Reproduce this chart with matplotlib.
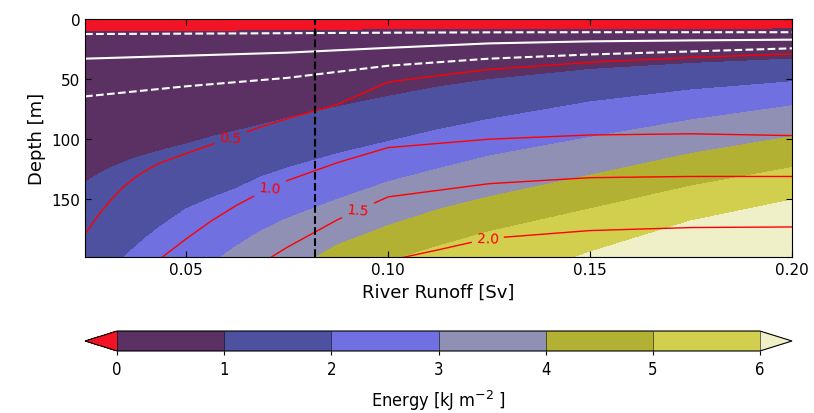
import numpy as np
import matplotlib
matplotlib.use("Agg")
import matplotlib.pyplot as plt
from matplotlib.colors import ListedColormap

plt.rcParams['font.family'] = 'DejaVu Sans'

# river runoff columns [Sv]
runoff = [0.025, 0.028125, 0.03125, 0.034375, 0.0375, 0.040625, 0.04375, 0.05,
          0.05625, 0.0625, 0.06875, 0.075, 0.0875, 0.1, 0.1125, 0.125, 0.15,
          0.175, 0.2]
ncol = len(runoff)

# energy field: depth [m] at which the energy reaches each level (kJ m-2)
energy_levels = [-1, 0, 1, 2, 3, 4, 5, 6, 7]
e_top = [0] * ncol
e_0 = [10.6, 10.55, 10.5, 10.45, 10.4, 10.35, 10.3, 10.2,
       10.1, 10.0, 9.8, 9.6, 9.3, 9.0, 8.9, 8.8, 8.6, 8.4, 8.3]
e_1 = [136, 129.5, 124, 119.5, 115.5, 112.5, 109.5, 104,
       98, 93, 88, 82.5, 73, 64.5, 56.5, 50.5, 42, 37, 33.3]
e_2 = [235, 222, 210, 199, 189.5, 180.5, 172.5, 158,
       149, 141, 131, 124, 112, 102, 92, 83.5, 69, 59, 52.2]
e_3 = [310, 297, 285, 273, 262, 251, 240, 222,
       204, 189, 176, 166, 150, 135.5, 124.5, 114, 98.5, 84, 72.2]
e_4 = [360, 350, 340, 330, 320, 310, 300, 282,
       265, 248, 230, 212, 188, 172, 158.5, 148, 130, 112, 97.8]
e_5 = [400, 390, 380, 370, 360, 350, 340, 320,
       300, 282, 265, 250, 224, 202, 189, 177, 158, 139, 123.6]
e_6 = [450, 440, 430, 420, 410, 400, 390, 370,
       350, 330, 310, 295, 270, 250, 236, 224, 194, 168, 150.6]
e_bottom = [1000] * ncol

# second field (red contours): depth of each labelled value
red_levels = [0.0, 0.5, 1.0, 1.5, 2.0, 2.5]
r_top = [0] * ncol
r_05 = [179, 164, 151, 140, 131.5, 125, 119.5, 112,
        104.5, 97, 89.5, 83, 71, 52.5, 47, 42, 36, 32, 29]
r_10 = [265, 254, 243, 231, 220, 209, 199, 183,
        168, 155, 144, 134.5, 119.5, 107, 103.5, 100, 96.5, 95.5, 97]
r_15 = [330, 322, 315, 307, 300, 292, 285, 268,
        250, 230, 203, 190, 167, 148, 142.5, 137, 132, 131, 131]
r_20 = [400, 392, 385, 377, 370, 362, 355, 340,
        325, 310, 290, 270, 235, 201, 192, 182.5, 176, 173.5, 173]
r_bottom = [1000] * ncol

# white layer-depth lines
line_runoff = [0.025, 0.05, 0.075, 0.1, 0.125, 0.15, 0.175, 0.2]
upper_dashed = [12.5, 12.2, 11.8, 11.4, 11.1, 11.0, 11.0, 11.0]
solid_line = [33, 30.5, 28, 24, 20.3, 18.6, 17.8, 17.2]
lower_dashed = [64.4, 56, 49, 38.9, 33, 29.5, 27, 24.4]

marker_runoff = 0.082

band_colors = ['#5a3162', '#4d51a0', '#7070e0', '#9090b5', '#b2b133', '#d2cf4f']
cmap = ListedColormap(band_colors)
cmap.set_under('#f21424')
cmap.set_over('#efefc8')

e_depth = np.array([e_top, e_0, e_1, e_2, e_3, e_4, e_5, e_6, e_bottom], dtype=float)
e_val = np.repeat(np.array(energy_levels, dtype=float)[:, None], ncol, axis=1)
e_x = np.tile(runoff, (len(energy_levels), 1))

r_depth = np.array([r_top, r_05, r_10, r_15, r_20, r_bottom], dtype=float)
r_val = np.repeat(np.array(red_levels)[:, None], ncol, axis=1)
r_x = np.tile(runoff, (len(red_levels), 1))

fig = plt.figure(figsize=(8.14, 4.14), dpi=100)
ax = fig.add_axes([85 / 814, 1 - 258 / 414, 707 / 814, 238 / 414])

cf = ax.contourf(e_x, e_depth, e_val, levels=[0, 1, 2, 3, 4, 5, 6],
                 cmap=cmap, extend='both')
cs = ax.contour(r_x, r_depth, r_val, levels=[0.5, 1.0, 1.5, 2.0],
                colors='red', linewidths=1.0)
ax.clabel(cs, fmt='%.1f', fontsize=10, inline=True,
          manual=[(0.061, 100), (0.0708, 137.5), (0.0926, 165), (0.1247, 181.7)])

ax.plot(line_runoff, upper_dashed, color='white', lw=1.5, ls='--')
ax.plot(line_runoff, solid_line, color='white', lw=1.5)
ax.plot(line_runoff, lower_dashed, color='white', lw=1.5, ls='--')
ax.axvline(marker_runoff, color='black', lw=1.5, ls='--')

ax.set_xlim(0.025, 0.2)
ax.set_ylim(198, 0)
ax.set_xticks([0.05, 0.10, 0.15, 0.20])
ax.set_xticklabels(['0.05', '0.10', '0.15', '0.20'])
ax.set_yticks([0, 50, 100, 150])
ax.tick_params(direction='in', top=True, right=True, labelsize=11, length=4)
ax.set_xlabel('River Runoff [Sv]', fontsize=13)
ax.set_ylabel('Depth [m]', fontsize=13)

cax = fig.add_axes([85 / 814, 1 - 352 / 414, 707 / 814, 20 / 414])
cb = fig.colorbar(cf, cax=cax, orientation='horizontal', ticks=range(7), drawedges=True)
cb.ax.tick_params(labelsize=12, direction='out', length=3)
for t in cb.ax.get_xticklabels():
    t.set_fontstretch('condensed')
cb.set_label('Energy [kJ m$^{-2}$ ]', fontsize=13, fontstretch='condensed', labelpad=7)

fig.savefig('out.png', dpi=100)
